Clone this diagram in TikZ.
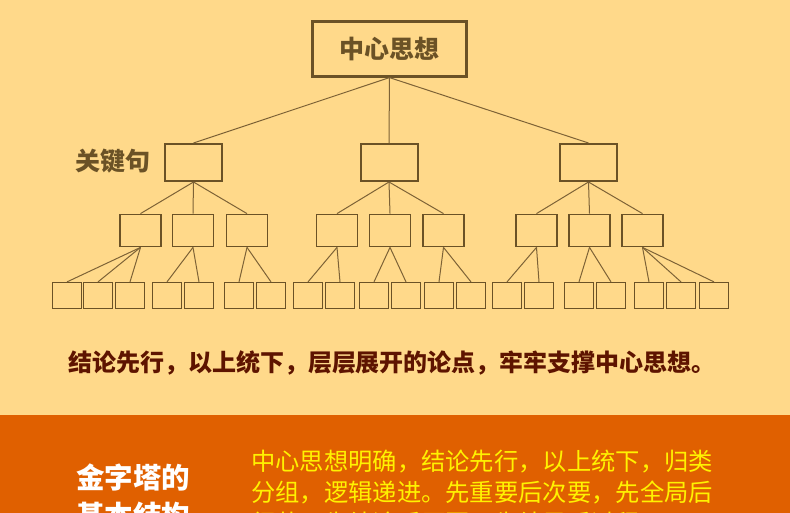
\documentclass[tikz,border=0pt]{standalone}
\usepackage{fontspec}
\newfontfamily\cjk{Noto Sans CJK SC}
\definecolor{bgyellow}{HTML}{FFD98A}
\definecolor{bandorange}{HTML}{E06000}
\definecolor{boxbrown}{HTML}{6B5226}
\definecolor{linkbrown}{HTML}{7D6236}
\definecolor{notered}{HTML}{5E1400}
\definecolor{descyellow}{HTML}{FFF200}

\begin{document}
\begin{tikzpicture}[x=1pt,y=-1pt,font=\cjk]
\tikzset{
  topbox/.style={draw=boxbrown,line width=2.2pt,minimum width=154pt,
    minimum height=55pt,inner sep=0pt,text=boxbrown,
    font=\cjk\bfseries\fontsize{25}{30}\selectfont},
  keybox/.style={draw=boxbrown,line width=2pt,minimum width=57pt,
    minimum height=37pt,inner sep=0pt},
  subbox/.style={draw=boxbrown,line width=1.8pt,minimum width=41pt,
    minimum height=32pt,inner sep=0pt},
  leafbox/.style={draw=boxbrown,line width=1.2pt,minimum width=29pt,
    minimum height=26pt,inner sep=0pt},
  link/.style={draw=linkbrown,line width=1pt},
  desctext/.style={anchor=base west,inner sep=0pt,text=descyellow,
    font=\cjk\fontsize{24.3}{31}\selectfont}
}
\path[use as bounding box] (0,0) rectangle (790,513);
\fill[bgyellow] (0,0) rectangle (790,415);
\fill[bandorange] (0,415) rectangle (790,513);

% pyramid: one main idea, three key sentences, nine points, twenty details
\node[topbox] (top) at (389.5,49) {中心思想};
\foreach \x [count=\i] in {193.5,389,588.5}
  \node[keybox] (k\i) at (\x,162.5) {};
\foreach \x [count=\i] in {140.5,193,247,337,390,443.5,536.5,589.5,642.5}
  \node[subbox] (s\i) at (\x,230.5) {};
\foreach \x [count=\i] in {67,98,130,167,199,239,271,308,340,374,406,439,471,
    507,539,579,611,649,681,714}
  \node[leafbox] (l\i) at (\x,295.5) {};

\foreach \i in {1,2,3}
  \draw[link] (top.south) -- (k\i.north);
\foreach \k/\s in {1/1,1/2,1/3,2/4,2/5,2/6,3/7,3/8,3/9}
  \draw[link] (k\k.south) -- (s\s.north);
\foreach \s/\l in {1/1,1/2,1/3,2/4,2/5,3/6,3/7,4/8,4/9,5/10,5/11,6/12,6/13,
    7/14,7/15,8/16,8/17,9/18,9/19,9/20}
  \draw[link] (s\s.south) -- (l\l.north);

\node[text=boxbrown,font=\cjk\bfseries\fontsize{25}{30}\selectfont]
  (keyname) at (113,161.5) {关键句};
\node[text=notered,font=\cjk\bfseries\fontsize{24}{30}\selectfont]
  (note) at (392,362.5) {结论先行，以上统下，层层展开的论点，牢牢支撑中心思想。};

% lower band, cut off at the bottom edge as in the source
\node[anchor=base,inner sep=0pt,text=white,
  font=\cjk\bfseries\fontsize{28.5}{38}\selectfont] (title1) at (133,488) {金字塔的};
\node[anchor=base,inner sep=0pt,text=white,
  font=\cjk\bfseries\fontsize{28.5}{38}\selectfont] (title2) at (133,526) {基本结构};
\node[desctext] (desc1) at (251,470) {中心思想明确，结论先行，以上统下，归类};
\node[desctext] (desc2) at (251,501) {分组，逻辑递进。先重要后次要，先全局后};
\node[desctext] (desc3) at (251,532) {细节，先结论后原因，先结果后过程};
\end{tikzpicture}
\end{document}
